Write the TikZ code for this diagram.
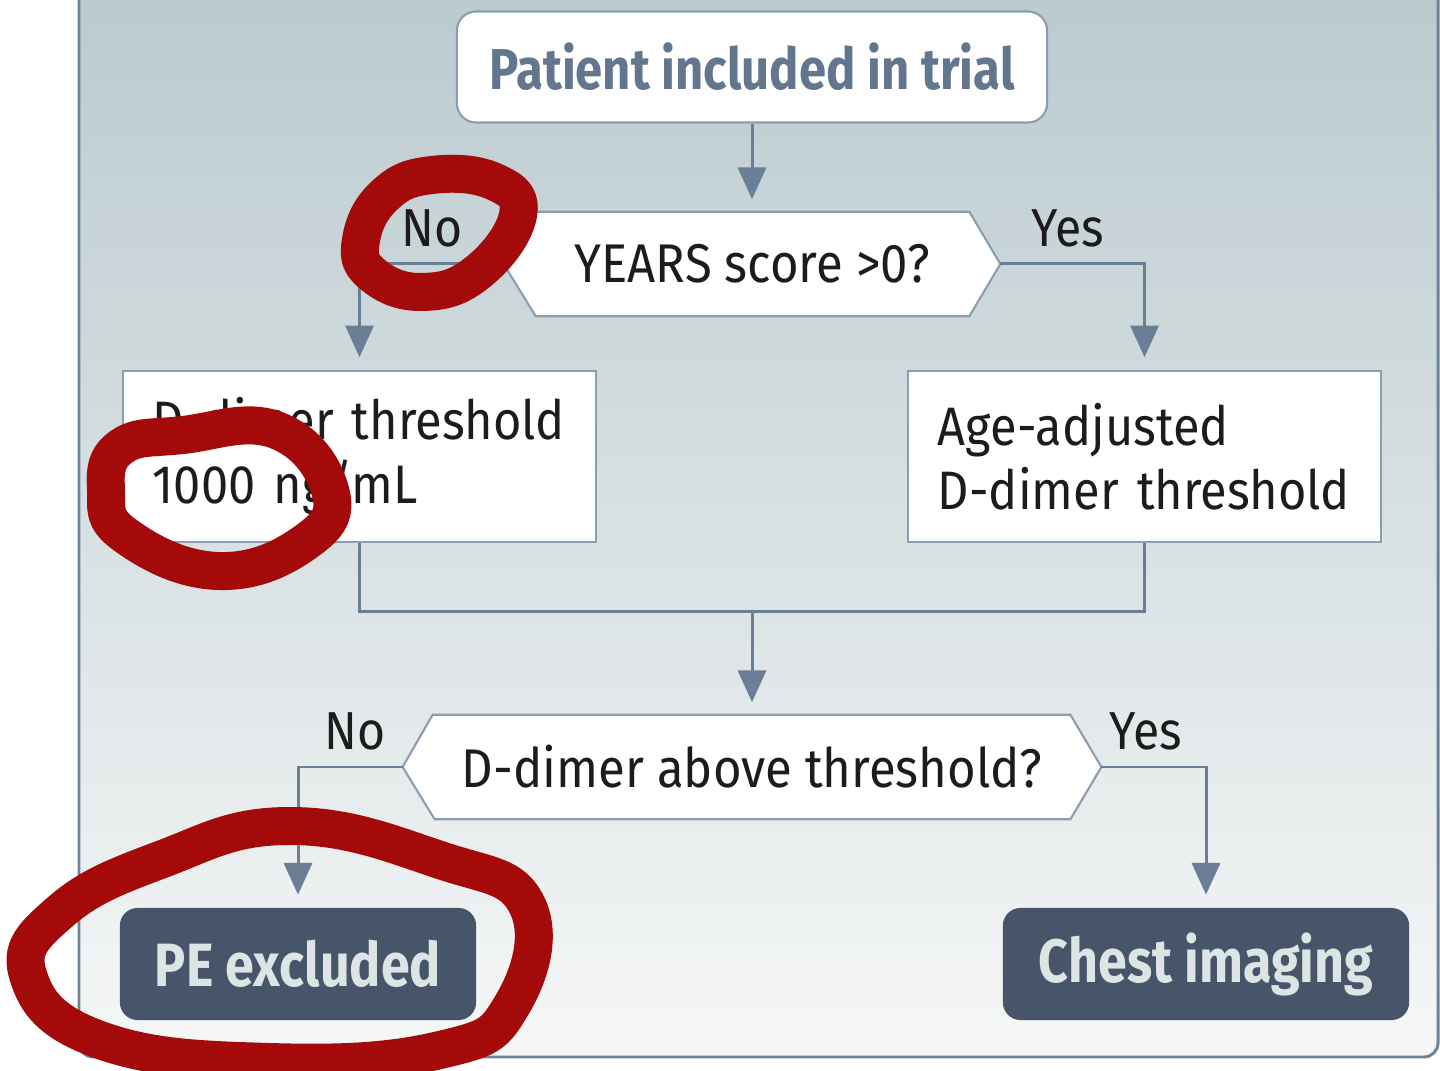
\documentclass[tikz,border=0pt]{standalone}
\usepackage{fontspec}
\setmainfont{Fira Sans}[FakeStretch=0.9]
\newfontfamily\boldcond{Fira Sans}[FakeStretch=0.85]
\usetikzlibrary{arrows.meta,backgrounds}
\definecolor{panelbd}{HTML}{6E8297}
\definecolor{bgtop}{HTML}{B9C9CE}
\definecolor{bgmid}{HTML}{CCD8DB}
\definecolor{bgbot}{HTML}{F6F7F7}
\definecolor{boxbd}{HTML}{8B9EB1}
\definecolor{connc}{HTML}{6A7F96}
\definecolor{titlec}{HTML}{62768D}
\definecolor{darkbox}{HTML}{465569}
\definecolor{darktxt}{HTML}{DCE5E4}
\definecolor{inktxt}{HTML}{1C1C1C}
\definecolor{scrib}{HTML}{A50A0A}

\begin{document}
\begin{tikzpicture}[x=0.01cm,y=-0.01cm,
  startbox/.style={draw=boxbd,line width=0.6pt,fill=white,rounded corners=5.5pt,minimum width=5.9cm,minimum height=1.11cm,text=titlec,font=\boldcond\bfseries\fontsize{16.4}{18}\selectfont},
  qtext/.style={minimum height=1.03cm,inner sep=0pt,text=inktxt,font=\fontsize{15.5}{18.2}\selectfont},
  qhex/.style={draw=boxbd,line width=0.6pt,fill=white},
  infobox/.style={draw=boxbd,line width=0.6pt,fill=white,minimum height=1.71cm,text width=4.13cm,inner xsep=0.30cm,align=left,text=inktxt,font=\fontsize{15.4}{18.2}\selectfont},
  endbox/.style={fill=darkbox,rounded corners=5pt,minimum height=1.12cm,text=darktxt,font=\boldcond\bfseries\fontsize{17.4}{20}\selectfont},
  yn/.style={text=inktxt,font=\fontsize{15.2}{18}\selectfont},
  conn/.style={draw=connc,line width=0.85pt},
  arr/.style={conn,-{Triangle[width=8pt,length=9pt]},shorten >=3.6pt},
  scribble/.style={draw=scrib,line width=10.8pt,line join=round},
]
\useasboundingbox (0,0) rectangle (1440,1071);
% nodes
\node[startbox] (start) at (752,67) {Patient included in trial};
\node[qtext,minimum width=4.95cm] (qyears) at (752,264) {YEARS score >0?};
\node[infobox] (fixed) at (359.5,456.5) {\mbox{D-dimer threshold}\\1000 ng/mL};
\node[infobox] (adj) at (1144.5,456.5) {Age-adjusted\\\mbox{D-dimer threshold}};
\coordinate (merge) at (752,612);
\node[qtext,minimum width=6.97cm] (qdimer) at (752,767) {D-dimer above threshold?};
\node[endbox,minimum width=3.56cm] (excl) at (298,964) {PE excluded};
\node[endbox,minimum width=4.06cm] (imaging) at (1206,964) {Chest imaging};
% panel and hexagon outlines, behind everything
\begin{scope}[on background layer]
\shade[top color=bgtop,middle color=bgmid,bottom color=bgbot,rounded corners=4pt] (79,-30) rectangle (1438,1057);
\draw[panelbd,line width=0.85pt,rounded corners=4pt] (79,-30) -- (79,1057) -- (1438,1057) -- (1438,-30);
\foreach \q in {qyears,qdimer}{
  \filldraw[qhex] (\q.west) -- ([xshift=0.3cm]\q.north west) -- ([xshift=-0.31cm]\q.north east)
    -- (\q.east) -- ([xshift=-0.31cm]\q.south east) -- ([xshift=0.32cm]\q.south west) -- cycle;
}
\end{scope}
% connectors
\draw[arr] (start) -- (qyears);
\draw[arr] (qyears.west) -| (fixed.north);
\draw[arr] (qyears.east) -| (adj.north);
\draw[conn] (fixed.south) |- (merge) -| (adj.south);
\draw[arr] (merge) -- (qdimer);
\draw[arr] (qdimer.west) -| (excl.north);
\draw[arr] (qdimer.east) -| (imaging.north);
% branch labels
\node[yn] (noA) at (432,228) {No};
\node[yn] (yesA) at (1068,228) {Yes};
\node[yn] (noB) at (355,731) {No};
\node[yn] (yesB) at (1146,731) {Yes};
% red marks
\draw[scribble] plot[smooth cycle,tension=0.75] coordinates {(361,240) (385,195) (432,175) (495,182) (518,215) (478,272) (422,292) (372,274)};
\draw[scribble] plot[smooth cycle,tension=0.75] coordinates {(106,490) (121,447) (183,435) (276,430) (330,490) (307,541) (218,571) (125,535)};
\draw[scribble] plot[smooth cycle,tension=0.75] coordinates {(28,975) (60,912) (160,860) (290,826) (440,860) (527,905) (512,1005) (440,1050) (270,1062) (100,1040)};
\end{tikzpicture}
\end{document}
